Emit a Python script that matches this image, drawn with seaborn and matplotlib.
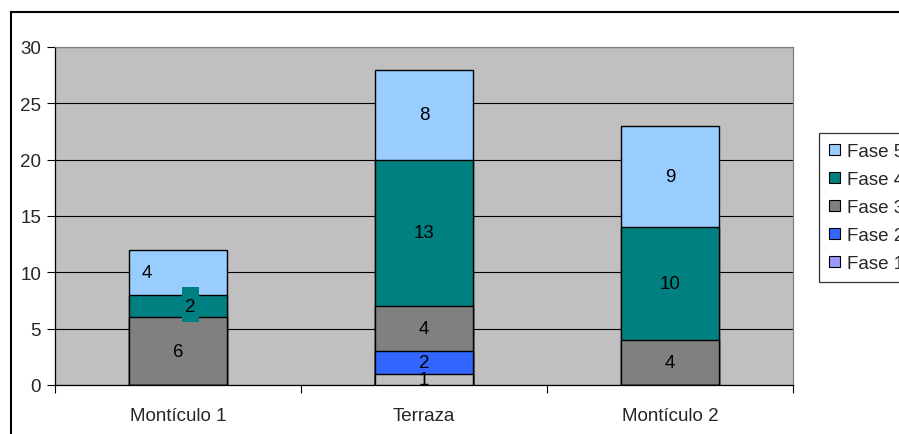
import matplotlib
matplotlib.use('Agg')
import matplotlib.pyplot as plt
from matplotlib.patches import Patch, Rectangle
import seaborn as sns
import numpy as np

categorias = ['Montículo 1', 'Terraza', 'Montículo 2']
fases = ['Fase 1', 'Fase 2', 'Fase 3', 'Fase 4', 'Fase 5']
fase1 = [0, 1, 0]
fase2 = [0, 2, 0]
fase3 = [6, 4, 4]
fase4 = [2, 13, 10]
fase5 = [4, 8, 9]
colores = ['#9999FF', '#3366FF', '#808080', '#008080', '#99CCFF']
yticks = [0, 5, 10, 15, 20, 25, 30]

sns.set_style('white')
plt.rcParams['font.family'] = ['Liberation Sans', 'DejaVu Sans']
fs = 13.5

fig = plt.figure(figsize=(8.99, 4.35), dpi=100)
ax = fig.add_axes([55 / 899, 1 - 386 / 435, 738 / 899, 338 / 435])
ax.set_facecolor('#C0C0C0')

valores = [fase1, fase2, fase3, fase4, fase5]
acum = np.cumsum(np.array(valores), axis=0)

# dibujar de arriba hacia abajo para apilar
for i in range(4, -1, -1):
    relleno = colores[i] if i > 0 else '#C0C0C0'
    sns.barplot(x=categorias, y=acum[i], color=relleno, width=0.4,
                edgecolor='black', linewidth=1, saturation=1, ax=ax, zorder=3)

for i in range(5):
    for j in range(3):
        v = valores[i][j]
        if v == 0:
            continue
        y = acum[i][j] - v / 2
        dx = 0
        if i == 4 and j == 0:
            dx = -0.125
        if i == 3 and j == 0:
            dx = 0.05
            ax.add_patch(Rectangle((dx - 0.035, y - 1.4), 0.07, 3.1,
                                   facecolor='#008080', edgecolor='none', zorder=4))
        ax.text(j + dx, y, str(v), ha='center', va='center', fontsize=fs,
                color='black', zorder=5)

ax.set_ylim(0, 30)
ax.set_xlim(-0.5, 2.5)
ax.set_yticks(yticks)
ax.set_yticklabels([str(t) for t in yticks], fontsize=fs)
ax.yaxis.grid(True, color='black', linewidth=0.8)
ax.set_axisbelow(True)
ax.tick_params(axis='y', which='major', direction='out', length=6, width=0.8,
               color='black', left=True, pad=4)
ax.set_xticks([0, 1, 2])
ax.set_xticklabels(categorias, fontsize=fs)
ax.tick_params(axis='x', which='major', length=0, pad=16)
ax.set_xticks([-0.5, 0.5, 1.5, 2.5], minor=True)
ax.tick_params(axis='x', which='minor', direction='out', length=6, width=0.8,
               color='black', bottom=True)
ax.set_xlabel('')
ax.set_ylabel('')

for lado in ['left', 'bottom']:
    ax.spines[lado].set_color('black')
    ax.spines[lado].set_linewidth(0.9)
for lado in ['top', 'right']:
    ax.spines[lado].set_color('#808080')
    ax.spines[lado].set_linewidth(0.9)

handles = [Patch(facecolor=colores[i], edgecolor='black', linewidth=0.8, label=fases[i])
           for i in range(4, -1, -1)]
leg = fig.legend(handles=handles, loc='upper left',
                 bbox_to_anchor=(819 / 899, 1 - 134 / 435), fontsize=fs,
                 frameon=True, fancybox=False, handlelength=0.55, handleheight=0.55,
                 handletextpad=0.4, labelspacing=0.58, borderpad=0.55,
                 borderaxespad=0)
leg.get_frame().set_edgecolor('black')
leg.get_frame().set_linewidth(0.9)

fig.patches.append(Rectangle((11 / 899, -0.2), 1.2, 1.2 - 13 / 435,
                             transform=fig.transFigure, fill=False,
                             edgecolor='black', linewidth=1.5, figure=fig))

fig.savefig('out.png', dpi=100)
